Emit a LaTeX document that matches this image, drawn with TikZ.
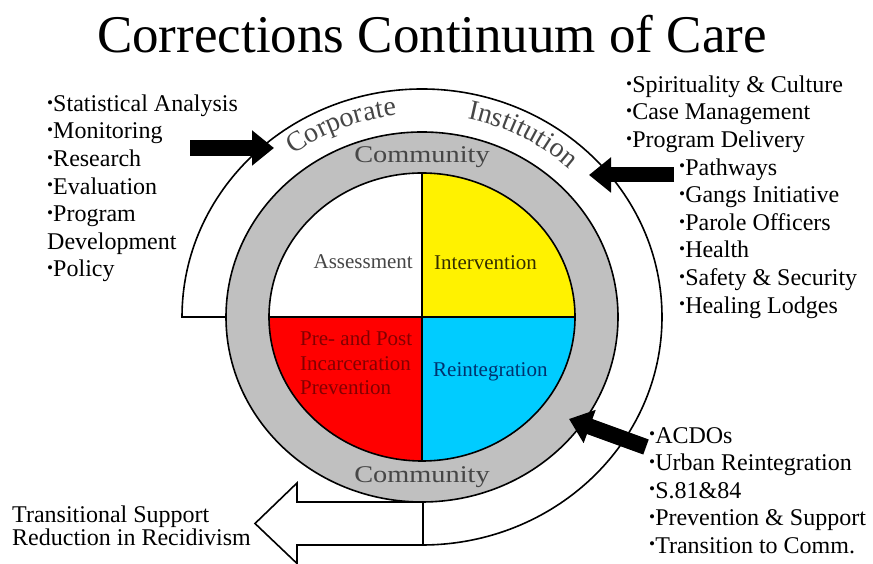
\documentclass[tikz,border=0pt]{standalone}
\usepackage{fontspec}
\setmainfont{Liberation Serif}
\usetikzlibrary{arrows.meta,decorations.text,calc}

\definecolor{ringgray}{RGB}{192,192,192}
\definecolor{quadcyan}{RGB}{0,204,255}
\definecolor{labgray}{RGB}{70,70,70}
\definecolor{prered}{RGB}{130,0,0}
\definecolor{reblue}{RGB}{0,50,110}
\definecolor{intdark}{RGB}{50,45,0}

\newcommand{\bul}{\raisebox{0.3ex}{\scalebox{0.72}{\textbullet}}}
\newcommand{\arcfont}{\rmfamily\fontsize{28}{28}\selectfont\color{labgray}}

\tikzset{
  lst/.style={anchor=north west, inner sep=0pt, align=left,
              font=\rmfamily\fontsize{24}{27.6}\selectfont},
  fatarrow/.style={line width=16pt, -{Triangle[length=22pt,width=34pt]}},
  outline/.style={draw=black, line width=1.6pt},
  quadlabel/.style={inner sep=0pt, font=\rmfamily\fontsize{21}{24.5}\selectfont},
  ringlabel/.style={inner sep=0pt, anchor=base, text=labgray,
                    font=\rmfamily\fontsize{24}{24}\selectfont},
}

\begin{document}
\begin{tikzpicture}[x=1pt,y=1pt]
\useasboundingbox (0,0) rectangle (873,564);
\coordinate (C) at (422,247);

% outer band around the ring
\draw[outline] (226,247) -- (182,247)
  arc[start angle=180,end angle=-90,x radius=240pt,y radius=228pt];

% hollow outlet arrow
\draw[outline,fill=white] (423,62) -- (297,62) -- (297,81) -- (255,40.5)
  -- (297,0.5) -- (297,19) -- (423,19) -- cycle;

% community ring
\draw[outline,fill=ringgray] (C) ellipse[x radius=196pt,y radius=185pt];

% four quadrants
\fill[white] (C) -- ++(-153,0)
  arc[start angle=180,end angle=90,x radius=153pt,y radius=144pt] -- cycle;
\fill[yellow] (C) -- ++(0,144)
  arc[start angle=90,end angle=0,x radius=153pt,y radius=144pt] -- cycle;
\fill[quadcyan] (C) -- ++(153,0)
  arc[start angle=0,end angle=-90,x radius=153pt,y radius=144pt] -- cycle;
\fill[red] (C) -- ++(0,-144)
  arc[start angle=270,end angle=180,x radius=153pt,y radius=144pt] -- cycle;
\draw[outline] (C) ellipse[x radius=153pt,y radius=144pt];
\draw[outline] (422,103) -- (422,391);
\draw[outline] (269,247) -- (575,247);

% quadrant labels
\node[quadlabel,anchor=base east,text=labgray] (assess) at (413,295) {Assessment};
\node[quadlabel,anchor=base west,text=intdark] (interv) at (434,294) {Intervention};
\node[quadlabel,anchor=north west,align=left,text=prered] (prepost) at (300,233)
  {Pre- and Post\\Incarceration\\Prevention};
\node[quadlabel,anchor=base west,text=reblue] (reint) at (433,187) {Reintegration};

% ring labels
\node[ringlabel] (commtop) at (422,401) {\scalebox{1.18}[1]{Community}};
\node[ringlabel] (commbot) at (422,81) {\scalebox{1.18}[1]{Community}};

% labels along the outer band
\path[decorate,decoration={text along path,text align=center,
  text={|\arcfont|Corporate}}]
  (C) ++(145:215pt and 203pt)
  arc[start angle=145,end angle=79,x radius=215pt,y radius=203pt];
\path[decorate,decoration={text along path,text align=center,
  text={|\arcfont|Institution}}]
  (C) ++(96:215pt and 203pt)
  arc[start angle=96,end angle=28,x radius=215pt,y radius=203pt];

% title
\node[inner sep=0pt,anchor=base,font=\rmfamily\fontsize{53}{53}\selectfont] (title)
  at (432,511) {Corrections Continuum of Care};

% lists
\node[lst] (corplist) at (47,469.5)
  {\bul Statistical Analysis\\\bul Monitoring\\\bul Research\\\bul Evaluation\\
   \bul Program\\Development\\\bul Policy};
\node[lst] (instlist) at (626,488.5)
  {\bul Spirituality \& Culture\\\bul Case Management\\\bul Program Delivery\\
   \hspace*{53pt}\bul Pathways\\\hspace*{53pt}\bul Gangs Initiative\\
   \hspace*{53pt}\bul Parole Officers\\\hspace*{53pt}\bul Health\\
   \hspace*{53pt}\bul Safety \& Security\\\hspace*{53pt}\bul Healing Lodges};
\node[lst,font=\rmfamily\fontsize{24}{27.5}\selectfont] (commlist) at (649,137)
  {\bul ACDOs\\\bul Urban Reintegration\\\bul S.81\&84\\
   \bul Prevention \& Support\\\bul Transition to Comm.};
\node[lst,font=\rmfamily\fontsize{24}{22.5}\selectfont] (outcome) at (12,58)
  {Transitional Support\\Reduction in Recidivism};

% input arrows
\coordinate (a1s) at (190,416);
\coordinate (a1e) at (274,416);
\coordinate (a2s) at (674,389);
\coordinate (a2e) at (589,389);
\coordinate (a3s) at (646,117);
\coordinate (a3e) at (569,145);
\draw[fatarrow] (a1s) -- (a1e);
\draw[fatarrow,line width=15pt] (a2s) -- (a2e);
\draw[fatarrow] (a3s) -- (a3e);
\end{tikzpicture}
\end{document}
